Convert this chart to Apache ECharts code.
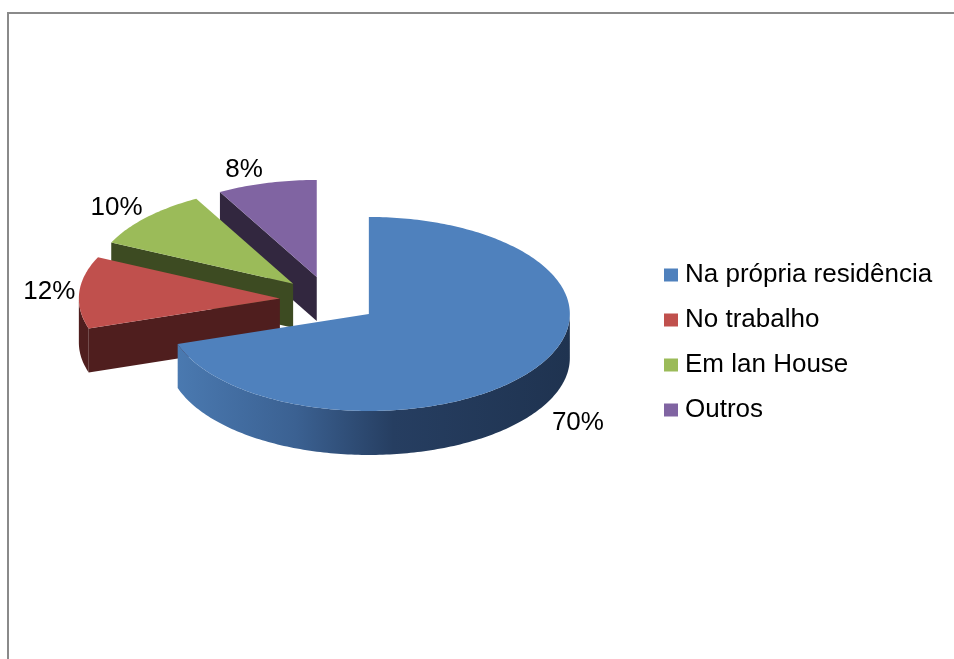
<!DOCTYPE html>
<html>
<head>
<meta charset="utf-8">
<script src="https://cdn.jsdelivr.net/npm/echarts@6/dist/echarts.min.js"></script>
<style>
html,body{margin:0;padding:0;background:#fff;}
#main{width:954px;height:659px;}
</style>
</head>
<body>
<div id="main"></div>
<script>
var categories = ['Na própria residência', 'No trabalho', 'Em lan House', 'Outros'];
var values = [70, 12, 10, 8];
var topColors = ['#4f81bd', '#c0504d', '#9bbb59', '#8064a2'];
var cutColors = ['#253c5e', '#4f1e1e', '#3d4b22', '#32273f'];

// pie layout (pixels)
var cx = 329, cy = 300, rx = 201, ry = 97, thick = 44, explode = 0.245;

var total = values.reduce(function (a, b) { return a + b; }, 0);
var starts = [], ends = [], acc = 0;
values.forEach(function (v) {
  starts.push(acc / total * 360);
  acc += v;
  ends.push(acc / total * 360);
});

function rad(d) { return d * Math.PI / 180; }
function sliceCenter(i) {
  var m = rad((starts[i] + ends[i]) / 2);
  return [cx + explode * rx * Math.sin(m), cy - explode * ry * Math.cos(m)];
}
function rim(c, deg, dy) {
  var a = rad(deg);
  return [c[0] + rx * Math.sin(a), c[1] - ry * Math.cos(a) + (dy || 0)];
}
function arc(c, a0, a1, dy) {
  var pts = [], n = Math.max(2, Math.ceil(Math.abs(a1 - a0)));
  for (var k = 0; k <= n; k++) pts.push(rim(c, a0 + (a1 - a0) * k / n, dy));
  return pts;
}
// back-to-front drawing order
var order = values.map(function (v, i) { return i; }).sort(function (a, b) {
  return sliceCenter(a)[1] - sliceCenter(b)[1];
});
var rank = [];
order.forEach(function (i, r) { rank[i] = r; });

function wallFill(i) {
  if (i === 0) {
    return new echarts.graphic.LinearGradient(0, 0, 1, 0, [
      {offset: 0, color: '#4a79b0'},
      {offset: 0.3, color: '#3b6192'},
      {offset: 0.55, color: '#263e61'},
      {offset: 1, color: '#1f3350'}
    ]);
  }
  return cutColors[i];
}

function renderSlice(params, api) {
  var i = params.seriesIndex, a0 = starts[i], a1 = ends[i];
  var c = sliceCenter(i), z = rank[i] * 10;
  var kids = [];
  // radial cut faces that face the viewer
  [[a0, a0 - 90], [a1, a1 + 90]].forEach(function (f) {
    if (Math.cos(rad(f[1])) < -0.01) {
      var p = rim(c, f[0]);
      kids.push({
        type: 'polygon', z2: z + 1,
        shape: {points: [c, p, [p[0], p[1] + thick], [c[0], c[1] + thick]]},
        style: {fill: cutColors[i]}
      });
    }
  });
  // outer wall (front half only)
  var w0 = Math.max(a0, 90), w1 = Math.min(a1, 270);
  if (w1 > w0) {
    kids.push({
      type: 'polygon', z2: z + 2,
      shape: {points: arc(c, w0, w1, 0).concat(arc(c, w1, w0, thick))},
      style: {fill: wallFill(i)}
    });
  }
  // top face
  kids.push({
    type: 'polygon', z2: z + 3,
    shape: {points: [c].concat(arc(c, a0, a1, 0))},
    style: {fill: topColors[i]}
  });
  // percentage label
  var m = (a0 + a1) / 2, s = Math.sin(rad(m)), co = Math.cos(rad(m));
  var r = rim(c, m);
  kids.push({
    type: 'text', z2: z + 4,
    x: r[0] + (s >= 0 ? 1 : -1) * (4 + 28 * Math.max(0, -co)),
    y: r[1] - 14 * co + (co < 0 ? thick : 0),
    style: {
      text: Math.round(api.value(0) / total * 100) + '%',
      fill: '#000',
      font: '26px "Liberation Sans", Arial, sans-serif',
      align: s >= 0 ? 'left' : 'right',
      verticalAlign: 'middle'
    }
  });
  return {type: 'group', children: kids};
}

var myChart = echarts.init(document.getElementById('main'));
var option = {
  animation: false,
  legend: {
    orient: 'vertical',
    left: 664,
    top: 262,
    padding: 0,
    itemWidth: 14,
    itemHeight: 13,
    itemGap: 19,
    icon: 'rect',
    textStyle: {fontFamily: 'Liberation Sans', fontSize: 26, color: '#000', lineHeight: 26, padding: [0, 0, 0, 2]},
    data: categories
  },
  graphic: [{
    type: 'rect', silent: true,
    shape: {x: 8, y: 13, width: 1000, height: 700},
    style: {fill: 'none', stroke: '#8a8a8a', lineWidth: 2}
  }],
  series: categories.map(function (name, i) {
    return {
      name: name,
      type: 'custom',
      coordinateSystem: 'none',
      itemStyle: {color: topColors[i]},
      renderItem: renderSlice,
      data: [[values[i]]]
    };
  })
};
option && myChart.setOption(option);
</script>
</body>
</html>
